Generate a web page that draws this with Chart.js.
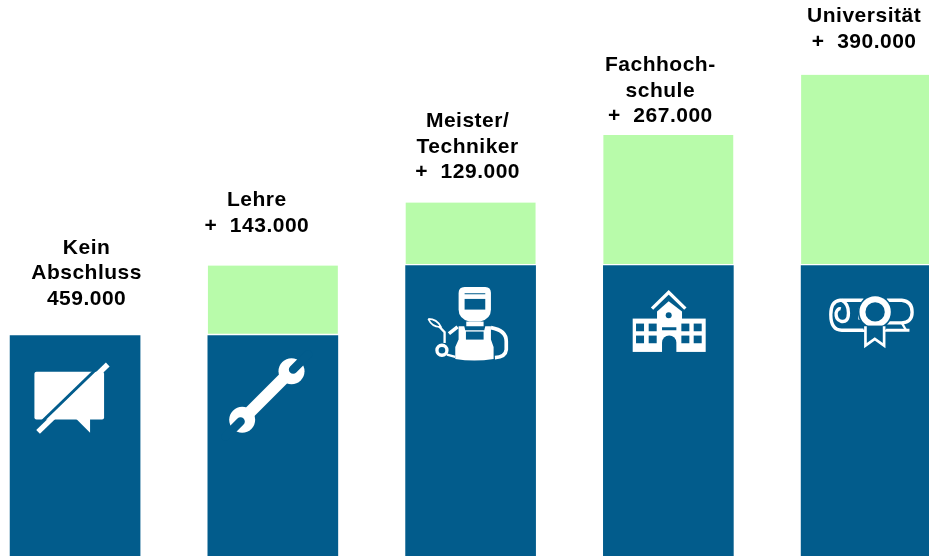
<!DOCTYPE html>
<html>
<head>
  <meta charset="utf-8">
  <title>Abschluss</title>
  <style>
    html, body { margin: 0; padding: 0; background: #fff; overflow: hidden; width: 929px; height: 556px; }
    #wrap { position: absolute; left: -24px; top: 1px; width: 989px; height: 559px; }
  </style>
  <script src="https://cdn.jsdelivr.net/npm/chart.js@4"></script>
</head>
<body>
  <div id="wrap"><canvas id="chart" width="989" height="559"></canvas></div>

  <script>
    // values in thousands
    const categories = ['Kein Abschluss', 'Lehre', 'Meister/Techniker', 'Fachhochschule', 'Universität'];
    const baseValues = [459, 459, 602, 602, 602];
    const addedValues = [null, 143, 129, 267, 390];
    const labelLines = [
      ['Kein', 'Abschluss', '459.000'],
      ['Lehre', '+  143.000'],
      ['Meister/', 'Techniker', '+  129.000'],
      ['Fachhoch-', 'schule', '+  267.000'],
      ['Universität', '+  390.000']
    ];

    const BLUE = '#025c8c';
    const GREEN = '#b8fbaa';

    // text block nudges relative to the bar centre / bar top
    const labelDx = [11.5, -16, -3, -8, -2];
    const labelGap = [31, 34, 24, 13, 27];

    // icons are traced in 3x units, (ox, oy) is the bar corner in those units
    function rect(ctx, x, y, w, h) { ctx.fillRect(x, y, w, h); }

    function line(ctx, pts, width) {
      ctx.lineWidth = width;
      ctx.beginPath();
      pts.forEach((p, i) => i ? ctx.lineTo(p[0], p[1]) : ctx.moveTo(p[0], p[1]));
      ctx.stroke();
    }

    const icons = [
      { ox: 30, oy: 315, draw(ctx) {
        ctx.beginPath();
        ctx.roundRect(103, 424, 209, 143, 6);
        ctx.fill();
        ctx.beginPath();
        ctx.moveTo(228, 565); ctx.lineTo(270, 607); ctx.lineTo(270, 565);
        ctx.fill();
        ctx.strokeStyle = BLUE;
        line(ctx, [[98, 600], [312, 393]], 9);
        ctx.strokeStyle = '#fff';
        line(ctx, [[114, 604], [323, 402]], 16);
      } },
      { ox: 624, oy: 315, draw(ctx) {
        ctx.strokeStyle = '#fff';
        line(ctx, [[740, 555], [860, 435]], 36);
        ctx.beginPath(); ctx.arc(875, 422, 39, 0, Math.PI * 2); ctx.fill();
        ctx.beginPath(); ctx.arc(727, 568, 39, 0, Math.PI * 2); ctx.fill();
        ctx.strokeStyle = BLUE;
        ctx.lineCap = 'round';
        line(ctx, [[880, 417], [925, 372]], 26);
        line(ctx, [[722, 573], [677, 618]], 26);
        ctx.lineCap = 'butt';
      } },
      { ox: 16, oy: 18, draw(ctx) {
        ctx.strokeStyle = '#fff';
        // helmet
        ctx.beginPath();
        ctx.moveTo(175, 100); ctx.quadraticCurveTo(175, 82, 193, 82);
        ctx.lineTo(255, 82); ctx.quadraticCurveTo(272, 82, 272, 100);
        ctx.lineTo(272, 150); ctx.quadraticCurveTo(272, 178, 240, 186);
        ctx.lineTo(207, 186); ctx.quadraticCurveTo(175, 178, 175, 150);
        ctx.fill();
        ctx.fillStyle = BLUE;
        rect(ctx, 193, 101, 62, 3);
        rect(ctx, 193, 118, 62, 32);
        ctx.fillStyle = '#fff';
        // neck and apron
        rect(ctx, 198, 186, 52, 14);
        ctx.beginPath();
        ctx.moveTo(165, 298); ctx.lineTo(165, 262); ctx.lineTo(175, 240);
        ctx.lineTo(175, 200); ctx.lineTo(192, 200); ctx.lineTo(195, 212); ctx.lineTo(252, 212);
        ctx.lineTo(255, 200); ctx.lineTo(272, 200); ctx.lineTo(272, 240); ctx.lineTo(280, 262); ctx.lineTo(280, 298);
        ctx.quadraticCurveTo(222, 308, 165, 298);
        ctx.fill();
        ctx.fillStyle = BLUE;
        rect(ctx, 197, 216, 53, 24);
        ctx.fillStyle = '#fff';
        // arms
        line(ctx, [[146, 222], [172, 202]], 11);
        ctx.beginPath();
        ctx.moveTo(272, 204); ctx.quadraticCurveTo(318, 212, 318, 245);
        ctx.lineTo(318, 270); ctx.quadraticCurveTo(316, 292, 284, 294);
        ctx.lineWidth = 11; ctx.stroke();
        // torch
        ctx.beginPath(); ctx.arc(125, 272, 15, 0, Math.PI * 2); ctx.lineWidth = 10; ctx.stroke();
        line(ctx, [[133, 250], [133, 218], [116, 200]], 7);
        line(ctx, [[140, 285], [165, 292]], 7);
        ctx.beginPath();
        ctx.moveTo(84, 178); ctx.quadraticCurveTo(110, 178, 122, 202); ctx.quadraticCurveTo(96, 204, 84, 178);
        ctx.lineWidth = 5; ctx.stroke();
      } },
      { ox: 9, oy: 18, draw(ctx) {
        ctx.strokeStyle = '#fff';
        line(ctx, [[155, 147], [205, 98], [255, 147]], 10);
        rect(ctx, 97, 177, 219, 100);
        ctx.beginPath();
        ctx.moveTo(170, 180); ctx.lineTo(170, 156); ctx.lineTo(205, 125); ctx.lineTo(245, 156); ctx.lineTo(245, 180);
        ctx.fill();
        ctx.fillStyle = BLUE;
        ctx.beginPath(); ctx.arc(205, 167, 9, 0, Math.PI * 2); ctx.fill();
        [107, 145, 243, 280].forEach(x => {
          rect(ctx, x, 192, 24, 23);
          rect(ctx, x, 228, 24, 23);
        });
        rect(ctx, 185, 203, 43, 9);
        ctx.beginPath();
        ctx.moveTo(185, 277); ctx.lineTo(185, 249); ctx.arc(206.5, 249, 21.5, Math.PI, 0); ctx.lineTo(228, 277);
        ctx.fill();
      } },
      { ox: 603, oy: 18, draw(ctx) {
        ctx.strokeStyle = '#fff';
        ctx.lineWidth = 10;
        // scroll body
        ctx.beginPath();
        ctx.moveTo(790, 122); ctx.lineTo(720, 122);
        ctx.quadraticCurveTo(692, 125, 692, 165);
        ctx.quadraticCurveTo(692, 212, 725, 212); ctx.lineTo(795, 212);
        ctx.stroke();
        ctx.beginPath();
        ctx.moveTo(860, 122); ctx.lineTo(905, 122);
        ctx.quadraticCurveTo(936, 125, 936, 158);
        ctx.quadraticCurveTo(936, 188, 905, 190);
        ctx.lineTo(790, 190);
        ctx.stroke();
        ctx.beginPath();
        ctx.moveTo(725, 122); ctx.quadraticCurveTo(745, 132, 745, 160); ctx.quadraticCurveTo(745, 190, 722, 185);
        ctx.quadraticCurveTo(706, 180, 708, 160); ctx.quadraticCurveTo(712, 145, 722, 148);
        ctx.stroke();
        line(ctx, [[853, 212], [928, 212]], 9);
        line(ctx, [[905, 190], [918, 212]], 7);
        line(ctx, [[778, 145], [778, 180]], 7);
        // rosette
        ctx.fillStyle = BLUE;
        ctx.beginPath(); ctx.arc(825, 157, 52, 0, Math.PI * 2); ctx.fill();
        ctx.fillStyle = '#fff';
        ctx.beginPath(); ctx.arc(825, 157, 47, 0, Math.PI * 2); ctx.fill();
        ctx.fillStyle = BLUE;
        ctx.beginPath(); ctx.arc(825, 157, 29, 0, Math.PI * 2); ctx.fill();
        // ribbon
        ctx.fillStyle = BLUE;
        rect(ctx, 790, 198, 68, 12);
        ctx.beginPath();
        ctx.moveTo(796, 200); ctx.lineTo(796, 258); ctx.lineTo(824, 238); ctx.lineTo(852, 258); ctx.lineTo(852, 200);
        ctx.lineWidth = 8; ctx.stroke();
      } }
    ];

    const decorate = {
      id: 'decorate',
      afterDatasetsDraw(chart) {
        const ctx = chart.ctx;
        const y = chart.scales.y;
        const blue = chart.getDatasetMeta(0).data;

        // icons on the blue bars
        icons.forEach((icon, i) => {
          const bar = blue[i];
          ctx.save();
          ctx.translate(bar.x - bar.width / 2, bar.y);
          ctx.scale(1 / 3, 1 / 3);
          ctx.translate(-icon.ox, -icon.oy);
          ctx.fillStyle = '#fff';
          icon.draw(ctx);
          ctx.restore();
        });

        // text above each stack
        ctx.save();
        ctx.fillStyle = '#000';
        ctx.font = 'bold 21px "Liberation Sans", Arial, sans-serif';
        ctx.letterSpacing = '0.5px';
        ctx.textAlign = 'center';
        ctx.textBaseline = 'alphabetic';
        labelLines.forEach((lines, i) => {
          const top = y.getPixelForValue(baseValues[i] + (addedValues[i] || 0));
          const cx = blue[i].x + labelDx[i];
          lines.forEach((txt, n) => {
            ctx.fillText(txt, cx, top - labelGap[i] - (lines.length - 1 - n) * 25.5);
          });
        });
        ctx.restore();
      }
    };

    new Chart(document.getElementById('chart'), {
      type: 'bar',
      data: {
        labels: categories,
        datasets: [{
          data: baseValues,
          backgroundColor: BLUE,
          barThickness: 130,
          stack: 's'
        }, {
          data: addedValues,
          backgroundColor: GREEN,
          borderColor: '#fff',
          borderWidth: { bottom: 2 },
          borderSkipped: false,
          barThickness: 130,
          stack: 's'
        }]
      },
      options: {
        responsive: false,
        animation: false,
        layout: { padding: { left: 0.2 } },
        plugins: { legend: { display: false }, tooltip: { enabled: false } },
        scales: {
          x: { display: false, stacked: true },
          y: { display: false, stacked: true, min: 0, max: 1143 }
        }
      },
      plugins: [decorate]
    });
  </script>
</body>
</html>
